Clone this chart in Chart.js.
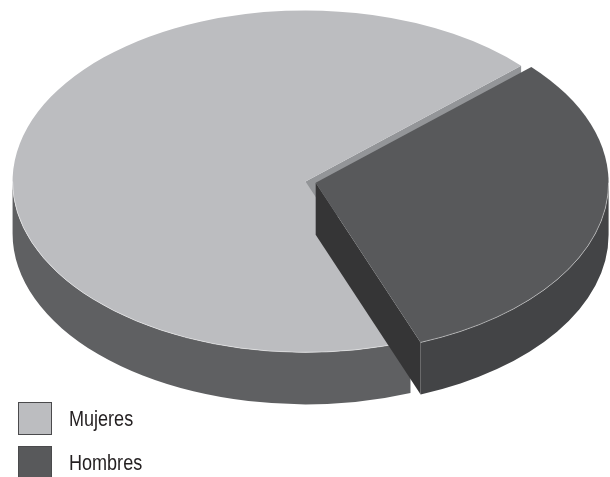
<!DOCTYPE html>
<html>
<head>
<meta charset="utf-8">
<script src="https://cdn.jsdelivr.net/npm/chart.js"></script>
<style>
  body { margin: 0; background: #fff; }
  #wrap { position: relative; width: 610px; height: 477px; }
  #legend { position: absolute; left: 18px; top: 402px; }
  .item { display: flex; align-items: center; height: 33px; margin-bottom: 11px; }
  .box { width: 32px; height: 31px; border: 1px solid #4a4a4c; box-sizing: content-box; }
  .label {
    margin-left: 17px;
    font-family: "Liberation Sans", Arial, sans-serif;
    font-size: 22px;
    color: #231f20;
    display: inline-block;
    transform: scaleX(0.82);
    transform-origin: left center;
  }
</style>
</head>
<body>
<div id="wrap">
  <canvas id="pie" width="610" height="477"></canvas>
  <div id="legend"></div>
</div>
<script>
// data
const labels = ["Mujeres", "Hombres"];
const values = [69, 31];

// colours: top face, outer wall, cut face
const topColors = ["#bcbdc0", "#58595b"];
const sideColors = ["#5f6062", "#434446"];
const cutColors = ["#939598", "#353536"];

// 3d look
const ASPECT = 1.713;   // horizontal stretch of the pie
const DEPTH = 52;       // thickness in px
const EXPLODE = [2.7, 3.4];

function drawSlice(ctx, arc, i) {
  const p = arc.getProps(["x", "y", "startAngle", "endAngle", "outerRadius"], true);
  const mid = (p.startAngle + p.endAngle) / 2;
  const cx = p.x + Math.cos(mid) * EXPLODE[i] * ASPECT;
  const cy = p.y + Math.sin(mid) * EXPLODE[i];
  const rx = p.outerRadius * ASPECT;
  const ry = p.outerRadius;
  const pt = (t) => [cx + Math.cos(t) * rx, cy + Math.sin(t) * ry];

  // cut faces
  function cut(t) {
    const q = pt(t);
    ctx.beginPath();
    ctx.moveTo(cx, cy);
    ctx.lineTo(q[0], q[1]);
    ctx.lineTo(q[0], q[1] + DEPTH);
    ctx.lineTo(cx, cy + DEPTH);
    ctx.closePath();
    ctx.fillStyle = cutColors[i];
    ctx.fill();
  }
  if (Math.cos(p.startAngle) < 0) cut(p.startAngle);
  if (Math.cos(p.endAngle) > 0) cut(p.endAngle);

  // outer wall, only the front half shows
  const TAU = Math.PI * 2;
  let s = ((p.startAngle % TAU) + TAU) % TAU;
  let e = s + (p.endAngle - p.startAngle);
  const front = [];
  [0, TAU].forEach(k => {
    const a0 = Math.max(s, k), a1 = Math.min(e, k + Math.PI);
    if (a1 > a0) front.push([a0, a1]);
  });
  front.forEach(([a0, a1]) => {
    ctx.beginPath();
    ctx.ellipse(cx, cy, rx, ry, 0, a0, a1);
    const q = pt(a1);
    ctx.lineTo(q[0], q[1] + DEPTH);
    ctx.ellipse(cx, cy + DEPTH, rx, ry, 0, a1, a0, true);
    ctx.closePath();
    ctx.fillStyle = sideColors[i];
    ctx.fill();
  });

  // top
  ctx.beginPath();
  ctx.moveTo(cx, cy);
  ctx.ellipse(cx, cy, rx, ry, 0, p.startAngle, p.endAngle);
  ctx.closePath();
  ctx.fillStyle = arc.options.backgroundColor;
  ctx.fill();

  // light rim on the front edge
  front.forEach(([a0, a1]) => {
    ctx.beginPath();
    ctx.ellipse(cx, cy, rx, ry, 0, a0, a1);
    ctx.strokeStyle = "rgba(255,255,255,0.45)";
    ctx.lineWidth = 1;
    ctx.stroke();
  });
}

const pie3d = {
  id: "pie3d",
  beforeDatasetsDraw(chart) {
    const ctx = chart.ctx;
    const arcs = chart.getDatasetMeta(0).data;
    const mid = (a) => (a.startAngle + a.endAngle) / 2;
    const order = arcs.map((a, i) => i)
      .sort((i, j) => Math.sin(mid(arcs[i])) - Math.sin(mid(arcs[j])));
    ctx.save();
    order.forEach(i => drawSlice(ctx, arcs[i], i));
    ctx.restore();
    return false;
  }
};

new Chart(document.getElementById("pie"), {
  type: "pie",
  data: {
    labels: labels,
    datasets: [{
      data: values,
      backgroundColor: topColors,
      borderWidth: 0
    }]
  },
  options: {
    responsive: false,
    animation: false,
    rotation: 159,
    layout: { padding: { left: 10, right: 0, top: 11, bottom: 124 } },
    plugins: {
      legend: { display: false },
      tooltip: { enabled: false }
    }
  },
  plugins: [pie3d]
});

// legend
const legend = document.getElementById("legend");
labels.forEach((name, i) => {
  const item = document.createElement("div");
  item.className = "item";
  const box = document.createElement("div");
  box.className = "box";
  box.style.background = topColors[i];
  const text = document.createElement("span");
  text.className = "label";
  text.textContent = name;
  item.appendChild(box);
  item.appendChild(text);
  legend.appendChild(item);
});
</script>
</body>
</html>
